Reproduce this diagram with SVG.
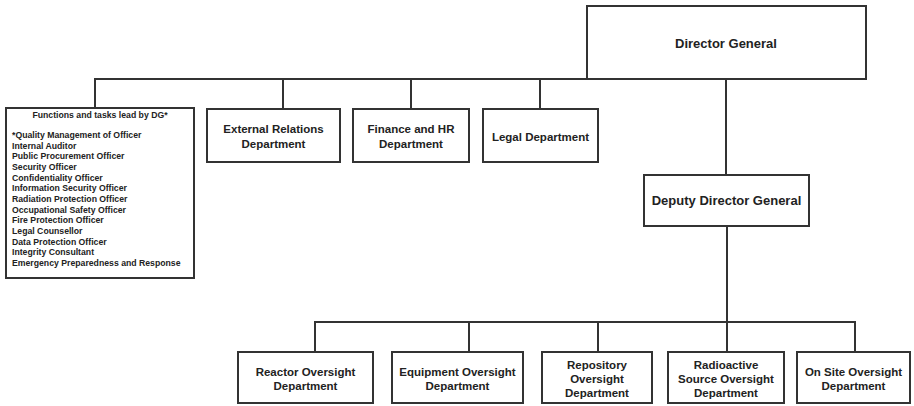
<svg xmlns="http://www.w3.org/2000/svg" width="914" height="406" viewBox="0 0 914 406">
<style>
.box{fill:#fff;stroke:#333;stroke-width:2}
.ln{fill:none;stroke:#333;stroke-width:2}
text{font-family:"Liberation Sans",Arial,sans-serif;font-weight:bold;fill:#222}
.t{font-size:11.5px;text-anchor:middle}
.big{font-size:13px;text-anchor:middle}
.sm{font-size:8.7px}
</style>
<rect width="914" height="406" fill="#fff"/>
<g id="connectors">
<polyline class="ln" points="95,108 95,79 587,79"/>
<line class="ln" x1="283" y1="79" x2="283" y2="109"/>
<line class="ln" x1="411" y1="79" x2="411" y2="109"/>
<line class="ln" x1="540" y1="79" x2="540" y2="109"/>
<line class="ln" x1="726" y1="79" x2="726" y2="175"/>
<line class="ln" x1="727" y1="226" x2="727" y2="352"/>
<polyline class="ln" points="315,352 315,322 855,322 855,352"/>
<line class="ln" x1="469" y1="322" x2="469" y2="352"/>
<line class="ln" x1="598" y1="322" x2="598" y2="352"/>
</g>
<g id="director-general">
<rect class="box" x="587" y="6" width="279" height="73"/>
<text class="big" x="726" y="48">Director General</text>
</g>
<g id="functions-dg">
<rect class="box" x="6" y="108" width="188" height="170"/>
<text class="sm" x="100" y="118" text-anchor="middle">Functions and tasks lead by DG*</text>
<text class="sm" x="12" y="138">*Quality Management of Officer</text>
<text class="sm" x="12" y="148.7">Internal Auditor</text>
<text class="sm" x="12" y="159.3">Public Procurement Officer</text>
<text class="sm" x="12" y="170">Security Officer</text>
<text class="sm" x="12" y="180.7">Confidentiality Officer</text>
<text class="sm" x="12" y="191.3">Information Security Officer</text>
<text class="sm" x="12" y="202">Radiation Protection Officer</text>
<text class="sm" x="12" y="212.7">Occupational Safety Officer</text>
<text class="sm" x="12" y="223.3">Fire Protection Officer</text>
<text class="sm" x="12" y="234">Legal Counsellor</text>
<text class="sm" x="12" y="244.7">Data Protection Officer</text>
<text class="sm" x="12" y="255.3">Integrity Consultant</text>
<text class="sm" x="12" y="266">Emergency Preparedness and Response</text>
</g>
<g id="external-relations">
<rect class="box" x="207" y="109" width="133" height="53"/>
<text class="t" x="273.5" y="133">External Relations</text>
<text class="t" x="273.5" y="148">Department</text>
</g>
<g id="finance-hr">
<rect class="box" x="353" y="109" width="116" height="53"/>
<text class="t" x="411" y="133">Finance and HR</text>
<text class="t" x="411" y="148">Department</text>
</g>
<g id="legal">
<rect class="box" x="483" y="109" width="115" height="53"/>
<text class="t" x="540.5" y="141">Legal Department</text>
</g>
<g id="deputy-director-general">
<rect class="box" x="644" y="175" width="165" height="51"/>
<text class="big" x="726.5" y="205">Deputy Director General</text>
</g>
<g id="reactor-oversight">
<rect class="box" x="238" y="352" width="135" height="51"/>
<text class="t" x="305.5" y="376">Reactor Oversight</text>
<text class="t" x="305.5" y="390">Department</text>
</g>
<g id="equipment-oversight">
<rect class="box" x="392" y="352" width="131" height="51"/>
<text class="t" x="457.5" y="376">Equipment Oversight</text>
<text class="t" x="457.5" y="390">Department</text>
</g>
<g id="repository-oversight">
<rect class="box" x="542" y="352" width="110" height="51"/>
<text class="t" x="597" y="369">Repository</text>
<text class="t" x="597" y="383">Oversight</text>
<text class="t" x="597" y="397">Department</text>
</g>
<g id="radioactive-source-oversight">
<rect class="box" x="668" y="352" width="116" height="51"/>
<text class="t" x="726" y="369">Radioactive</text>
<text class="t" x="726" y="383">Source Oversight</text>
<text class="t" x="726" y="397">Department</text>
</g>
<g id="on-site-oversight">
<rect class="box" x="797" y="352" width="113" height="51"/>
<text class="t" x="853.5" y="376">On Site Oversight</text>
<text class="t" x="853.5" y="390">Department</text>
</g>
</svg>
